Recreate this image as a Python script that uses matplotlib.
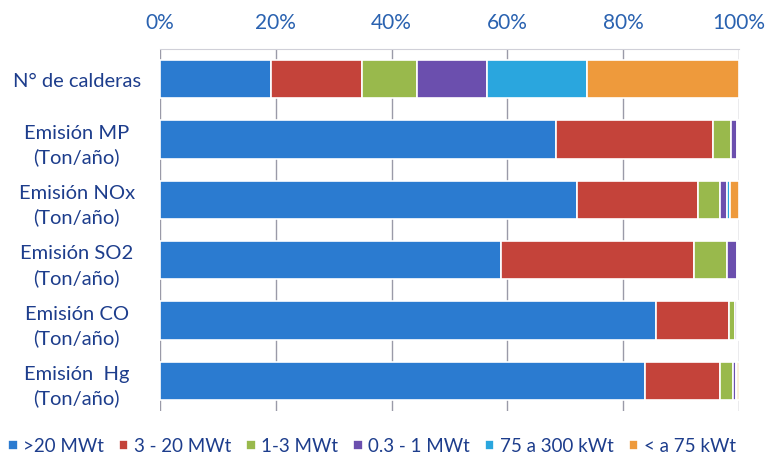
import matplotlib
matplotlib.use("Agg")
import matplotlib.pyplot as plt
import numpy as np

categories = ["N° de calderas", "Emisión MP\n(Ton/año)", "Emisión NOx\n(Ton/año)",
              "Emisión SO2\n(Ton/año)", "Emisión CO\n(Ton/año)", "Emisión  Hg\n(Ton/año)"]
series_names = [">20 MWt", "3 - 20 MWt", "1-3 MWt", "0.3 - 1 MWt", "75 a 300 kWt", "< a 75 kWt"]
gt20 = [19.2, 68.4, 72.0, 58.9, 85.7, 83.8]
mw3_20 = [15.7, 27.1, 20.9, 33.3, 12.6, 13.0]
mw1_3 = [9.5, 3.1, 3.8, 5.7, 1.0, 2.2]
mw03_1 = [12.1, 1.0, 1.2, 1.7, 0.3, 0.5]
kw75_300 = [17.3, 0.2, 0.5, 0.2, 0.2, 0.2]
lt75 = [26.2, 0.2, 1.6, 0.2, 0.2, 0.3]
series = [gt20, mw3_20, mw1_3, mw03_1, kw75_300, lt75]
colors = ["#2b7bd0", "#c4433a", "#99b94c", "#6b4fae", "#2aa6de", "#ee9a3c"]
ticks = [0, 20, 40, 60, 80, 100]

plt.rcParams['font.family'] = ['Lato', 'DejaVu Sans']
fig = plt.figure(figsize=(7.69, 4.64), dpi=100)
ax = fig.add_axes([160/769, 1-412/464, (739-160)/769, (412-50)/464])

y = np.arange(len(categories))
left = np.zeros(len(categories))
for name, vals, c in zip(series_names, series, colors):
    v = np.array(vals)
    ax.barh(y, v, left=left, height=0.63, color=c, edgecolor="white", linewidth=1.2,
            label=name, zorder=3)
    left += v

ax.set_xlim(0, 100)
ax.set_ylim(len(categories) - 0.5, -0.5)
ax.set_xticks(ticks)
ax.set_xticklabels([f"{t}%" for t in ticks])
ax.tick_params(axis='x', top=True, labeltop=True, bottom=False, labelbottom=False,
               length=0, labelsize=15, labelcolor="#2a62b0", pad=12)
ax.set_yticks(y)
ax.set_yticklabels(categories, linespacing=1.45)
ax.tick_params(axis='y', length=0, labelsize=14.5, labelcolor="#1d3d8c", pad=60)
for lbl in ax.get_yticklabels():
    lbl.set_horizontalalignment('center')
    lbl.set_multialignment('center')
ax.grid(axis='x', color="#9a9aa8", linewidth=1.0, zorder=0)
for s in ["left", "right", "bottom"]:
    ax.spines[s].set_visible(False)
ax.spines["top"].set_color("#d0d0d8")

handles, labels = ax.get_legend_handles_labels()
fig.legend(handles, labels, loc="center", bbox_to_anchor=(372/769, 1-447/464), ncol=6,
           frameon=False, fontsize=13.5, handlelength=0.5, handleheight=0.5,
           handletextpad=0.3, columnspacing=0.8, labelcolor="#1d3d8c")

fig.savefig("out.png", dpi=100)
